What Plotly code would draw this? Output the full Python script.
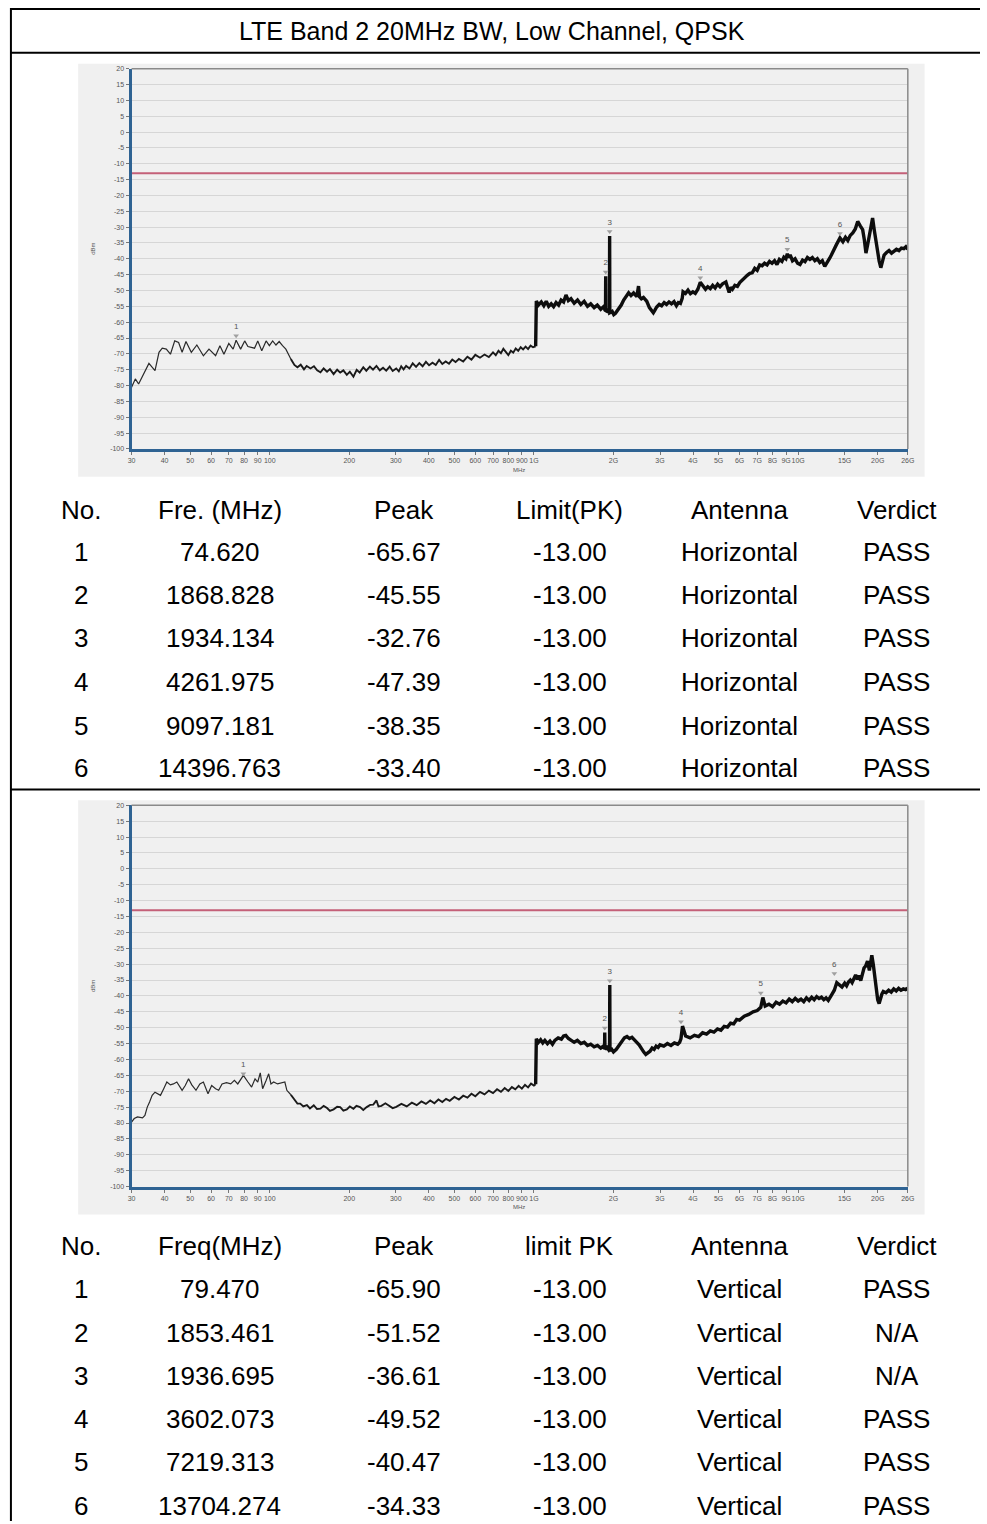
import plotly.graph_objects as go

# ---------------- DATA ----------------
title_text = "LTE Band 2 20MHz BW, Low Channel, QPSK"

h_freq = [30.0, 31.0, 31.9, 33.0, 34.9, 36.8, 38.1, 39.2, 40.6, 42.1, 43.7, 45.2, 46.6, 48.2, 50.5, 53.0, 56.1, 58.9,
          62.4, 64.8, 67.1, 70.0, 72.7, 74.6, 77.6, 80.4, 82.7, 87.6, 90.1, 93.3, 96.9, 99.7, 102.6, 105.6, 108.6, 111.8,
          115.1, 120.2, 124, 127.3, 131, 134.8, 138, 142.7, 147, 151.2, 155.6, 160, 164.8, 169, 174.5, 180, 184.8, 190,
          195.8, 201, 207.4, 213.4, 219, 226.0, 232, 239.4, 246, 253.5, 261, 268.5, 276, 284.4, 292, 301.2, 308, 314.5,
          321, 328.3, 338, 347.7, 358, 368.3, 379, 390.1, 401, 413.2, 425, 437.6, 450, 463.4, 477, 490.8, 505, 519.9,
          540, 560, 580, 600, 625, 650, 675, 700, 717, 734, 750, 766, 783, 800, 818, 835, 853, 872, 891, 910, 930, 950,
          971, 992, 1015, 1020, 1021,
          1040, 1066, 1090, 1113, 1137, 1162, 1187, 1213, 1240, 1267, 1295, 1322, 1350, 1381, 1420, 1462, 1505, 1549,
          1595, 1640, 1690, 1737, 1790, 1840, 1860, 1866, 1868.8, 1871, 1893, 1920, 1931, 1934.1, 1937, 1977, 2005,
          2035, 2065, 2094, 2140, 2186, 2230, 2282, 2330, 2383, 2452, 2488, 2509, 2550, 2597, 2673, 2735, 2780, 2831,
          2870, 2914, 2980, 3042, 3110, 3176, 3245, 3315, 3390, 3461, 3520, 3584, 3640, 3667, 3745, 3828, 3910, 3996,
          4080, 4172, 4261, 4380, 4460, 4547, 4650, 4748, 4850, 4957, 5060, 5175, 5326, 5400, 5481, 5560, 5641, 5760,
          5889, 6010, 6148, 6280, 6419, 6560, 6701, 6850, 6997, 7150, 7305, 7460, 7627, 7790, 7963, 8140, 8313, 8490,
          8679, 8830, 8985, 9097, 9200, 9325, 9520, 9735, 9950, 10164, 10390, 10611, 10840, 11078, 11320, 11566, 11820,
          12075, 12340, 12607, 12800, 12975, 13160, 13355, 13650, 13942, 14396, 14765, 15100, 15416, 15750, 16094,
          16450, 16802, 17180, 17541, 17800, 18053, 18300, 18582, 18850, 19126, 19400, 19684, 19970, 20257, 20549,
          20850, 21148, 21600, 22078, 22560, 23049, 23550, 24063, 24590, 25122, 25560, 26000]
h_level = [-80.5, -77.9, -79.5, -76.9, -73.0, -75.3, -69.5, -68.2, -68.5, -70.1, -65.9, -66.4, -69.5, -66.1, -69.5,
           -67.2, -70.6, -68.5, -70.6, -67.4, -70.1, -66.7, -68.5, -65.7, -68.5, -65.9, -67.7, -68.2, -65.9, -69.0,
           -65.9, -67.4, -65.9, -67.2, -66.1, -67.4, -68.5, -71.6, -73.5, -74.2, -73.4, -74.9, -73.8, -74.6, -73.9,
           -75.2, -75.8, -74.6, -75.6, -74.8, -76.4, -75.0, -75.9, -75.2, -76.6, -75.6, -77.2, -75.0, -75.9, -74.2,
           -75.3, -74.0, -75.0, -73.8, -75.2, -74.4, -75.3, -74.0, -75.4, -74.6, -75.5, -73.9, -74.9, -73.8, -74.6,
           -73.0, -74.1, -72.9, -73.9, -72.5, -73.6, -72.8, -73.5, -71.9, -73.2, -72.4, -73.1, -71.8, -72.6, -71.6,
           -72.4, -70.9, -71.8, -70.3, -71.2, -70.2, -71.0, -69.5, -70.4, -69.0, -69.8, -68.4, -69.6, -70.4, -69.0,
           -69.6, -68.3, -69.0, -67.9, -68.6, -67.7, -68.5, -67.4, -67.9, -67.6, -60.0, -53.3,
           -54.6, -53.6, -54.8, -53.4, -55.0, -54.2, -55.1, -53.8, -54.6, -53.0, -53.6, -51.4, -53.2, -52.6, -54.0,
           -53.0, -54.4, -53.4, -55.0, -54.2, -55.4, -54.6, -55.9, -55.0, -56.4, -56.0, -45.5, -56.4, -56.6, -56.0,
           -56.2, -32.8, -57.0, -56.6, -57.6, -57.2, -56.4, -56.0, -54.6, -53.0, -51.8, -50.7, -51.6, -50.8, -51.9,
           -48.6, -52.0, -52.6, -52.2, -53.4, -55.4, -56.2, -57.0, -56.2, -55.2, -54.4, -54.8, -53.8, -54.4, -53.6,
           -54.2, -53.5, -54.8, -53.8, -54.1, -52.5, -50.4, -50.9, -49.9, -51.0, -50.4, -50.9, -49.6, -47.4, -48.6,
           -49.6, -48.8, -49.4, -48.4, -49.2, -48.0, -48.8, -47.9, -47.3, -49.0, -50.6, -49.0, -49.6, -48.4, -48.7,
           -47.5, -46.6, -46.0, -45.2, -44.6, -44.4, -43.0, -43.6, -41.9, -42.2, -41.4, -41.9, -40.8, -41.4, -40.6,
           -41.8, -40.2, -40.8, -39.5, -40.0, -38.4, -39.6, -38.8, -40.6, -40.0, -41.4, -41.8, -40.4, -40.9, -39.6,
           -40.2, -39.6, -40.6, -40.0, -41.2, -40.6, -42.4, -41.6, -40.8, -39.8, -38.8, -37.0, -35.6, -33.4, -34.6,
           -33.2, -34.2, -32.6, -31.8, -30.6, -28.2, -29.6, -30.8, -34.0, -38.2, -35.8, -33.2, -29.8, -27.1, -30.8,
           -34.4, -37.8, -40.7, -42.8, -40.4, -38.8, -38.0, -37.4, -38.2, -37.6, -37.0, -37.4, -36.6, -36.8, -36.2,
           -37.0]

v_freq = [30.0, 30.7, 31.6, 33.0, 33.7, 34.4, 35.1, 35.9, 36.8, 37.5, 38.6, 39.7, 40.8, 42.1, 43.2, 44.5, 46.6, 47.9,
          49.3, 50.7, 52.6, 54.4, 56.1, 58.4, 60.3, 62.4, 64.1, 66.0, 68.6, 71.2, 73.5, 75.7, 78.0, 79.5, 82.7, 85.4,
          88.0, 90.1, 92.1, 94.0, 96.9, 99.1, 101.1, 103.5, 107.1, 111.8, 114.1, 116.1, 120.2, 123.3, 127.3, 130.5,
          134, 138.3, 142, 146.8, 151, 155.6, 160, 164.8, 169, 174.5, 180, 184.8, 190, 195.8, 201, 207.4, 213, 219.7,
          226, 232.8, 240, 246.6, 253.5, 258, 264.7, 274, 284.4, 292, 301.2, 315, 330, 345, 360, 375, 390, 405, 420,
          435, 450, 465, 480, 500, 520, 540, 560, 580, 600, 625, 650, 675, 700, 725, 750, 775, 800, 825, 850, 875,
          900, 925, 950, 975, 1000, 1015, 1020, 1021,
          1040, 1060, 1080, 1100, 1125, 1150, 1175, 1200, 1235, 1270, 1295, 1320, 1350, 1380, 1420, 1460, 1505, 1550,
          1595, 1640, 1690, 1740, 1790, 1830, 1850, 1853.5, 1857, 1890, 1920, 1933, 1936.7, 1940, 1970, 2000, 2050,
          2100, 2150, 2200, 2250, 2300, 2350, 2400, 2450, 2500, 2550, 2600, 2650, 2700, 2750, 2800, 2850, 2900, 2950,
          3000, 3100, 3200, 3300, 3400, 3500, 3560, 3602, 3650, 3750, 3900, 4050, 4200, 4350, 4500, 4650, 4800, 4950,
          5100, 5250, 5400, 5550, 5700, 5850, 6000, 6250, 6500, 6750, 7000, 7219, 7350, 7500, 7750, 8000, 8250, 8500,
          8750, 9000, 9250, 9500, 9750, 10000, 10250, 10500, 10750, 11000, 11250, 11500, 11750, 12000, 12250, 12500,
          12750, 13000, 13350, 13704, 14000, 14300, 14650, 15000, 15250, 15500, 15750, 16000, 16250, 16500, 16750,
          17000, 17250, 17500, 17750, 18000, 18300, 18600, 18800, 19000, 19250, 19500, 19750, 20000, 20250, 20500,
          20750, 21000, 21500, 22000, 22500, 23000, 23500, 24000, 24500, 25000, 25500, 26000]
v_level = [-79.7, -78.6, -78.1, -78.4, -77.6, -75.0, -73.4, -71.3, -70.3, -70.8, -71.3, -69.2, -67.1, -68.0, -67.7,
           -67.1, -69.7, -68.2, -66.1, -68.0, -69.7, -67.7, -67.1, -70.8, -68.2, -69.2, -69.7, -67.7, -67.3, -67.7,
           -66.6, -67.7, -66.1, -65.0, -67.1, -68.7, -66.1, -67.1, -64.2, -69.2, -66.6, -64.5, -67.7, -67.1, -67.7,
           -67.3, -67.1, -69.7, -71.1, -72.3, -73.9, -73.9, -74.8, -74.4, -75.4, -74.4, -75.6, -75.5, -74.6, -75.3,
           -76.2, -75.7, -74.9, -75.0, -76.1, -75.7, -74.8, -75.5, -74.6, -75.0, -75.9, -75.0, -74.3, -74.2, -72.9,
           -74.8, -74.6, -73.8, -74.6, -75.3, -74.9, -74.0, -74.8, -73.6, -74.4, -73.2, -74.0, -72.9, -73.8, -72.6,
           -73.4, -72.4, -73.0, -71.8, -72.6, -71.4, -72.0, -70.8, -71.6, -70.2, -71.0, -69.8, -70.6, -69.4, -70.2,
           -69.0, -69.9, -68.7, -69.4, -68.3, -69.2, -68.0, -68.8, -67.6, -68.2, -67.8, -60.0, -53.5,
           -54.6, -53.8, -54.8, -54.0, -55.0, -54.2, -55.2, -54.0, -53.2, -53.6, -52.6, -52.4, -53.4, -53.8, -54.6,
           -54.0, -55.0, -54.6, -55.6, -55.2, -56.0, -55.6, -56.4, -55.8, -56.6, -51.5, -56.8, -56.2, -57.0, -56.6,
           -36.6, -57.2, -56.8, -57.6, -56.8, -55.6, -54.0, -53.2, -52.8, -53.4, -53.0, -54.0, -54.6, -55.4, -56.6,
           -57.6, -58.4, -58.0, -57.4, -56.4, -56.8, -55.8, -56.2, -55.4, -55.8, -55.0, -55.6, -54.8, -55.2, -54.6,
           -53.4, -49.5, -52.6, -53.2, -52.4, -52.8, -51.6, -52.0, -51.0, -51.4, -50.4, -50.8, -49.6, -49.8, -48.6,
           -48.8, -47.4, -47.6, -46.4, -45.8, -45.0, -44.6, -43.6, -40.5, -43.2, -42.6, -43.4, -42.0, -42.6, -41.6,
           -42.2, -41.0, -41.8, -40.8, -41.6, -41.0, -41.8, -40.6, -41.4, -40.4, -41.2, -40.2, -40.8, -40.4, -41.2,
           -40.6, -41.4, -39.8, -38.2, -35.8, -36.6, -37.2, -36.0, -36.8, -35.6, -35.0, -35.8, -34.6, -33.4, -34.8,
           -33.6, -35.2, -33.0, -31.2, -30.6, -29.0, -32.0, -28.6, -27.2, -30.2, -34.0, -38.0, -41.2, -42.4, -40.6,
           -39.4, -38.6, -39.0, -38.2, -38.8, -37.8, -38.4, -37.6, -38.2, -37.8, -38.0, -37.6]

limit_level = -13.0

y_tick_vals = [20, 15, 10, 5, 0, -5, -10, -15, -20, -25, -30, -35, -40, -45, -50, -55, -60, -65, -70, -75, -80,
               -85, -90, -95, -100]
x_tick_vals = [30, 40, 50, 60, 70, 80, 90, 100, 200, 300, 400, 500, 600, 700, 800, 900, 1000, 2000, 3000, 4000,
               5000, 6000, 7000, 8000, 9000, 10000, 15000, 20000, 26000]
x_tick_text = ["30", "40", "50", "60", "70", "80", "90", "100", "200", "300", "400", "500", "600", "700", "800",
               "900", "1G", "2G", "3G", "4G", "5G", "6G", "7G", "8G", "9G", "10G", "15G", "20G", "26G"]

headers_1 = ["No.", "Fre. (MHz)", "Peak", "Limit(PK)", "Antenna", "Verdict"]
no_1 = [1, 2, 3, 4, 5, 6]
freq_1 = [74.620, 1868.828, 1934.134, 4261.975, 9097.181, 14396.763]
peak_1 = [-65.67, -45.55, -32.76, -47.39, -38.35, -33.40]
limit_1 = [-13.00, -13.00, -13.00, -13.00, -13.00, -13.00]
antenna_1 = ["Horizontal"] * 6
verdict_1 = ["PASS", "PASS", "PASS", "PASS", "PASS", "PASS"]

headers_2 = ["No.", "Freq(MHz)", "Peak", "limit PK", "Antenna", "Verdict"]
no_2 = [1, 2, 3, 4, 5, 6]
freq_2 = [79.470, 1853.461, 1936.695, 3602.073, 7219.313, 13704.274]
peak_2 = [-65.90, -51.52, -36.61, -49.52, -40.47, -34.33]
limit_2 = [-13.00, -13.00, -13.00, -13.00, -13.00, -13.00]
antenna_2 = ["Vertical"] * 6
verdict_2 = ["PASS", "N/A", "N/A", "PASS", "PASS", "PASS"]

# ---------------- LAYOUT HELPERS ----------------
W, H = 987, 1524


def px(x):
    return x / W


def py(y):
    return 1 - y / H


FONT = "Liberation Sans, Arial, sans-serif"
AXIS_BLUE = "#2f6393"
GRID = "#d6d6d6"
BG = "#f0f0f0"
LIMIT_COLOR = "#c46078"

fig = go.Figure()

charts = [
    dict(xa="x", ya="y", top=65, bottom=447, gtop=60, gbot=475, freq=h_freq, level=h_level,
         mf=freq_1, mp=peak_1, nos=no_1),
    dict(xa="x2", ya="y2", top=805, bottom=1188, gtop=800, gbot=1216, freq=v_freq, level=v_level,
         mf=freq_2, mp=peak_2, nos=no_2),
]

shapes = []
annotations = []

for i, c in enumerate(charts):
    shapes.append(dict(type="rect", xref="paper", yref="paper", x0=px(75), x1=px(931),
                       y0=py(c["gbot"]), y1=py(c["gtop"]), fillcolor=BG, line=dict(width=0), layer="below"))
    shapes.append(dict(type="line", xref="paper", yref="paper", x0=px(129), x1=px(914),
                       y0=py(c["top"]), y1=py(c["top"]), line=dict(color="#8a8a8a", width=1.5)))
    shapes.append(dict(type="line", xref="paper", yref="paper", x0=px(914), x1=px(914),
                       y0=py(c["bottom"]), y1=py(c["top"]), line=dict(color="#8a8a8a", width=1.5)))

    fr, lv = c["freq"], c["level"]
    # three segments drawn with different apparent thickness (noise band width grows with frequency)
    segs = [(0, 120.2, "#2a2a2a", 1.2), (120.2, 1015, "#1a1a1a", 1.9), (1015, 1e9, "#0d0d0d", 3.4)]
    for lo, hi, col, wd in segs:
        sf = [f for f in fr if lo <= f <= hi]
        sl = [l for f, l in zip(fr, lv) if lo <= f <= hi]
        fig.add_trace(go.Scatter(x=sf, y=sl, mode="lines", line=dict(color=col, width=wd),
                                 xaxis=c["xa"], yaxis=c["ya"], hoverinfo="skip"))
    fig.add_trace(go.Scatter(x=[30, 26000], y=[limit_level, limit_level], mode="lines",
                             line=dict(color=LIMIT_COLOR, width=2), xaxis=c["xa"], yaxis=c["ya"],
                             hoverinfo="skip"))
    fig.add_trace(go.Scatter(x=c["mf"], y=[p + 1.4 for p in c["mp"]], mode="markers",
                             marker=dict(symbol="triangle-down", size=5, color="#a0a0a0"),
                             xaxis=c["xa"], yaxis=c["ya"], hoverinfo="skip"))
    fig.add_trace(go.Scatter(x=c["mf"], y=[p + 4.2 for p in c["mp"]], mode="text",
                             text=[str(n) for n in c["nos"]], textfont=dict(size=8, color="#555", family=FONT),
                             xaxis=c["xa"], yaxis=c["ya"], hoverinfo="skip"))
    annotations.append(dict(text="MHz", xref="paper", yref="paper", x=px(521), y=py(c["bottom"] + 21),
                            xanchor="center", yanchor="middle",
                            showarrow=False, font=dict(size=6, color="#555", family=FONT)))
    annotations.append(dict(text="dBm", xref="paper", yref="paper", x=px(90),
                            y=py((c["top"] + c["bottom"]) / 2 - 10), xanchor="center", yanchor="middle",
                            showarrow=False, textangle=-90, font=dict(size=6, color="#555", family=FONT)))

common_x = dict(type="log", range=[1.4771213, 4.4149733], tickvals=x_tick_vals, ticktext=x_tick_text,
                tickangle=0, showgrid=False, zeroline=False, showline=True, linecolor=AXIS_BLUE, linewidth=3,
                ticks="outside", ticklen=3, tickcolor="#777", tickfont=dict(size=7, color="#555", family=FONT),
                fixedrange=True)
common_y = dict(range=[-100, 20], tickvals=y_tick_vals, ticktext=[str(v) for v in y_tick_vals],
                showgrid=True, gridcolor=GRID, gridwidth=1.2, zeroline=False, showline=True,
                linecolor=AXIS_BLUE, linewidth=3, ticks="outside", ticklen=3, tickcolor="#777",
                tickfont=dict(size=7, color="#555", family=FONT), fixedrange=True)

fig.update_layout(
    xaxis=dict(common_x, domain=[px(129), px(914)], anchor="y"),
    yaxis=dict(common_y, domain=[py(447), py(65)], anchor="x"),
    xaxis2=dict(common_x, domain=[px(129), px(914)], anchor="y2"),
    yaxis2=dict(common_y, domain=[py(1188), py(805)], anchor="x2"),
)

# ---------------- TABLE FRAME ----------------
line_black = dict(color="black", width=2)
shapes.append(dict(type="line", xref="paper", yref="paper", x0=px(7), x1=px(987), y0=py(5), y1=py(5), line=line_black))
shapes.append(dict(type="line", xref="paper", yref="paper", x0=px(7), x1=px(987), y0=py(49), y1=py(49), line=line_black))
shapes.append(dict(type="line", xref="paper", yref="paper", x0=px(7), x1=px(987), y0=py(789), y1=py(789), line=line_black))
shapes.append(dict(type="line", xref="paper", yref="paper", x0=px(7), x1=px(7), y0=py(4), y1=py(1524), line=line_black))

annotations.append(dict(text=title_text, xref="paper", yref="paper", x=px(493), y=py(27), showarrow=False,
                        xanchor="center", yanchor="middle",
                        font=dict(size=25, color="black", family=FONT)))

col_x = [78, 218, 405, 572, 744, 903]
rows_y_1 = [508, 551, 594, 637, 681, 725, 768]
rows_y_2 = [1248, 1291, 1335, 1378, 1422, 1465, 1509]


def add_table(headers, nos, freqs, peaks, limits, ants, verds, rows_y):
    for cx, h in zip(col_x, headers):
        annotations.append(dict(text=h, xref="paper", yref="paper", x=px(cx), y=py(rows_y[0]), showarrow=False,
                                xanchor="center", yanchor="middle",
                                font=dict(size=26, color="black", family=FONT)))
    for k in range(len(nos)):
        vals = [str(nos[k]), f"{freqs[k]:.3f}", f"{peaks[k]:.2f}", f"{limits[k]:.2f}", ants[k], verds[k]]
        for cx, v in zip(col_x, vals):
            annotations.append(dict(text=v, xref="paper", yref="paper", x=px(cx), y=py(rows_y[k + 1]),
                                    xanchor="center", yanchor="middle",
                                    showarrow=False, font=dict(size=26, color="black", family=FONT)))


add_table(headers_1, no_1, freq_1, peak_1, limit_1, antenna_1, verdict_1, rows_y_1)
add_table(headers_2, no_2, freq_2, peak_2, limit_2, antenna_2, verdict_2, rows_y_2)

fig.update_layout(
    width=W, height=H, margin=dict(l=0, r=0, t=0, b=0), autosize=False,
    paper_bgcolor="white", plot_bgcolor=BG, showlegend=False,
    shapes=shapes, annotations=annotations,
)

fig.write_html("out.html", config={"displayModeBar": False},
               post_script="document.body.style.margin='0px';document.body.style.overflow='hidden';")
